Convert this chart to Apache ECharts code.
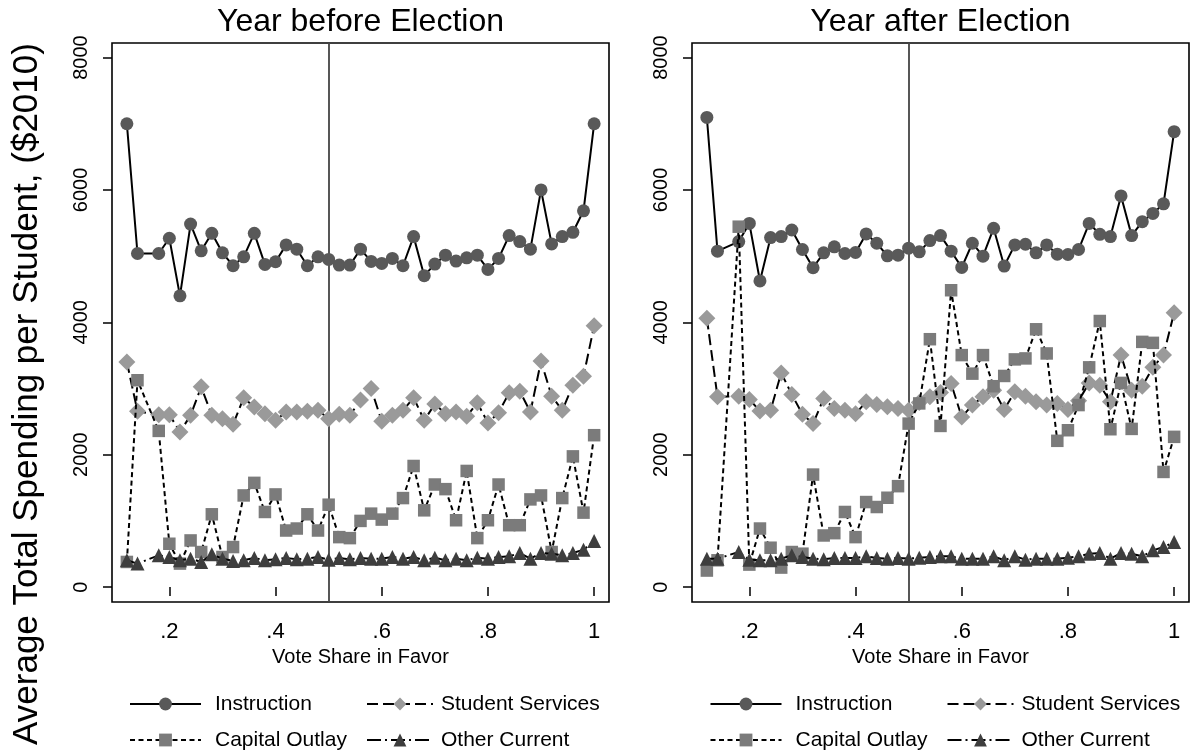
<!DOCTYPE html>
<html><head><meta charset="utf-8">
<script src="https://cdn.jsdelivr.net/npm/echarts@6/dist/echarts.min.js"></script>
<style>html,body{margin:0;padding:0;background:#fff}#c{width:1198px;height:755px}</style>
</head><body><div id="c"></div><script>
// ---------- data ----------
const voteShare = [0.12,0.14,0.18,0.20,0.22,0.24,0.26,0.28,0.30,0.32,0.34,0.36,0.38,0.40,0.42,0.44,0.46,0.48,0.50,0.52,0.54,0.56,0.58,0.60,0.62,0.64,0.66,0.68,0.70,0.72,0.74,0.76,0.78,0.80,0.82,0.84,0.86,0.88,0.90,0.92,0.94,0.96,0.98,1.00];
const seriesNames = ['Instruction','Student Services','Capital Outlay','Other Current'];
const panelTitles = ['Year before Election','Year after Election'];
const yTitle = 'Average Total Spending per Student, ($2010)';
const xTitle = 'Vote Share in Favor';
const xTicks = [0.2,0.4,0.6,0.8,1];
const yTicks = [0,2000,4000,6000,8000];
const cutoff = 0.5;

const beforeInstruction = [7000,5040,5040,5270,4400,5485,5080,5345,5050,4855,4990,5345,4875,4915,5170,5105,4855,4990,4950,4865,4865,5105,4920,4890,4965,4855,5295,4705,4880,5015,4925,4975,5015,4800,4965,5310,5220,5105,6000,5185,5295,5360,5685,7000];
const beforeStudent = [3400,2655,2605,2605,2345,2595,3025,2595,2545,2460,2860,2720,2620,2520,2645,2645,2655,2670,2545,2610,2595,2825,3000,2505,2595,2670,2860,2520,2765,2620,2645,2580,2785,2480,2635,2935,2960,2645,3415,2885,2670,3050,3185,3950];
const beforeCapital = [380,3125,2360,655,355,705,530,1100,455,605,1385,1575,1135,1400,855,885,1100,855,1245,755,740,1000,1110,1020,1110,1345,1830,1160,1550,1480,1010,1755,740,1010,1550,935,935,1325,1385,530,1345,1975,1125,2295];
const beforeOther = [405,355,480,455,405,430,380,495,430,395,405,440,405,420,440,420,430,455,415,440,420,440,430,430,455,430,455,405,445,405,430,405,445,430,455,465,515,430,515,505,480,515,565,695];

const afterInstruction = [7095,5075,5220,5495,4625,5280,5295,5395,5100,4825,5050,5140,5040,5055,5335,5195,5005,5015,5120,5065,5235,5310,5075,4830,5195,5000,5420,4850,5170,5180,5050,5170,5030,5025,5100,5495,5330,5295,5910,5310,5520,5645,5790,6880];
const afterStudent = [4060,2875,2885,2835,2660,2670,3235,2910,2610,2470,2850,2700,2670,2620,2800,2760,2725,2700,2670,2790,2875,2940,3075,2570,2750,2875,2975,2685,2950,2885,2800,2750,2775,2685,2815,3085,3050,2800,3505,2975,3035,3320,3505,4145];
const afterCapital = [250,405,5445,340,885,595,295,530,505,1700,780,815,1135,755,1285,1210,1350,1525,2470,2775,3745,2435,4485,3505,3225,3505,3035,3190,3440,3455,3895,3530,2210,2370,2750,3320,4020,2385,3085,2390,3705,3690,1740,2270];
const afterOther = [430,430,530,415,405,405,430,480,455,430,420,440,440,440,465,440,430,440,430,445,455,465,465,430,430,430,465,405,465,415,430,430,430,445,465,505,515,430,515,505,465,555,605,680];

const panels = [
  [beforeInstruction, beforeStudent, beforeCapital, beforeOther],
  [afterInstruction, afterStudent, afterCapital, afterOther]
];

// ---------- styles ----------
const FONT = '"Liberation Sans", Arial, Helvetica, sans-serif';
const looks = [
  {symbol:'circle',  size:13, color:'#595959', dash:'solid'},
  {symbol:'diamond', size:17, color:'#9a9a9a', dash:[11,5]},
  {symbol:'rect',    size:12.5, color:'#7b7b7b', dash:[5,3.5]},
  {symbol:'triangle',size:14, color:'#3e3e3e', dash:[14,4,2,4]}
];
const gridLefts = [112, 692];
const gridTop = 43, gridW = 497, gridH = 559;

const grids = [], xAxes = [], yAxes = [], series = [];
panels.forEach((vals, p) => {
  grids.push({left:gridLefts[p], top:gridTop, width:gridW, height:gridH, show:true,
    borderColor:'#000', borderWidth:1.6, backgroundColor:'#fff'});
  xAxes.push({type:'value', gridIndex:p, min:0.092, max:1.028,
    name: xTitle, nameLocation:'middle', nameGap:41,
    nameTextStyle:{fontFamily:FONT, fontSize:20, color:'#000'},
    axisLine:{show:false}, splitLine:{show:false},
    axisTick:{show:true, length:9, customValues:xTicks, lineStyle:{color:'#000', width:1.5}},
    axisLabel:{show:true, customValues:xTicks, fontFamily:FONT, fontSize:22, color:'#000', margin:19,
      formatter: v => (Math.abs(v-1) < 1e-9 ? '1' : String(+v.toFixed(1)).replace(/^0/, ''))}
  });
  yAxes.push({type:'value', gridIndex:p, min:-225, max:8220,
    axisLine:{show:false}, splitLine:{show:false},
    axisTick:{show:true, length:9, customValues:yTicks, lineStyle:{color:'#000', width:1.5}},
    axisLabel:{show:true, customValues:yTicks, rotate:90, fontFamily:FONT, fontSize:20, color:'#000', margin:21,
      formatter: v => String(Math.round(v))}
  });
  vals.forEach((arr, s) => {
    const lk = looks[s];
    const ser = {
      name: seriesNames[s], type:'line', xAxisIndex:p, yAxisIndex:p,
      data: voteShare.map((x, i) => [x, arr[i]]),
      symbol: lk.symbol, symbolSize: lk.size, showSymbol:true,
      itemStyle:{color: lk.color},
      lineStyle:{color:'#000', width:2, type: lk.dash},
      emphasis:{disabled:true}, animation:false, z: 3 + s
    };
    if (s === 0) {
      ser.markLine = {silent:true, symbol:'none', animation:false, z:1,
        label:{show:false}, lineStyle:{color:'#444', width:1.8, type:'solid'},
        data:[{xAxis: cutoff}]};
    }
    series.push(ser);
  });
});

function legendItem(name, left, top, padLeft, width) {
  return {orient:'horizontal', left:left, top:top, padding:0, itemWidth:width, itemHeight:16,
    selectedMode:false, data:[name],
    textStyle:{fontFamily:FONT, fontSize:21, lineHeight:22, color:'#000', padding:[0,0,0,padLeft]}};
}
const legends = [];
[0, 580.5].forEach(off => {
  legends.push(legendItem(seriesNames[0], 129 + off, 693, 9, 71));
  legends.push(legendItem(seriesNames[2], 129 + off, 729, 9, 71));
  legends.push(legendItem(seriesNames[1], 366 + off, 693, 3, 66));
  legends.push(legendItem(seriesNames[3], 366 + off, 729, 3, 66));
});

const graphics = [
  {type:'text', x: gridLefts[0] + gridW/2, y: 22, silent:true,
    style:{text: panelTitles[0], font:'32px ' + FONT, fill:'#000', align:'center', verticalAlign:'middle'}},
  {type:'text', x: gridLefts[1] + gridW/2, y: 22, silent:true,
    style:{text: panelTitles[1], font:'32px ' + FONT, fill:'#000', align:'center', verticalAlign:'middle'}},
  {type:'text', x: 27, y: 394, rotation: Math.PI/2, silent:true,
    style:{text: yTitle, font:'35px ' + FONT, fill:'#000', align:'center', verticalAlign:'middle'}}
];

const chart = echarts.init(document.getElementById('c'), null, {renderer:'canvas'});
chart.setOption({
  backgroundColor:'#fff', animation:false,
  grid: grids, xAxis: xAxes, yAxis: yAxes, series: series,
  legend: legends, graphic: graphics
});
</script></body></html>
